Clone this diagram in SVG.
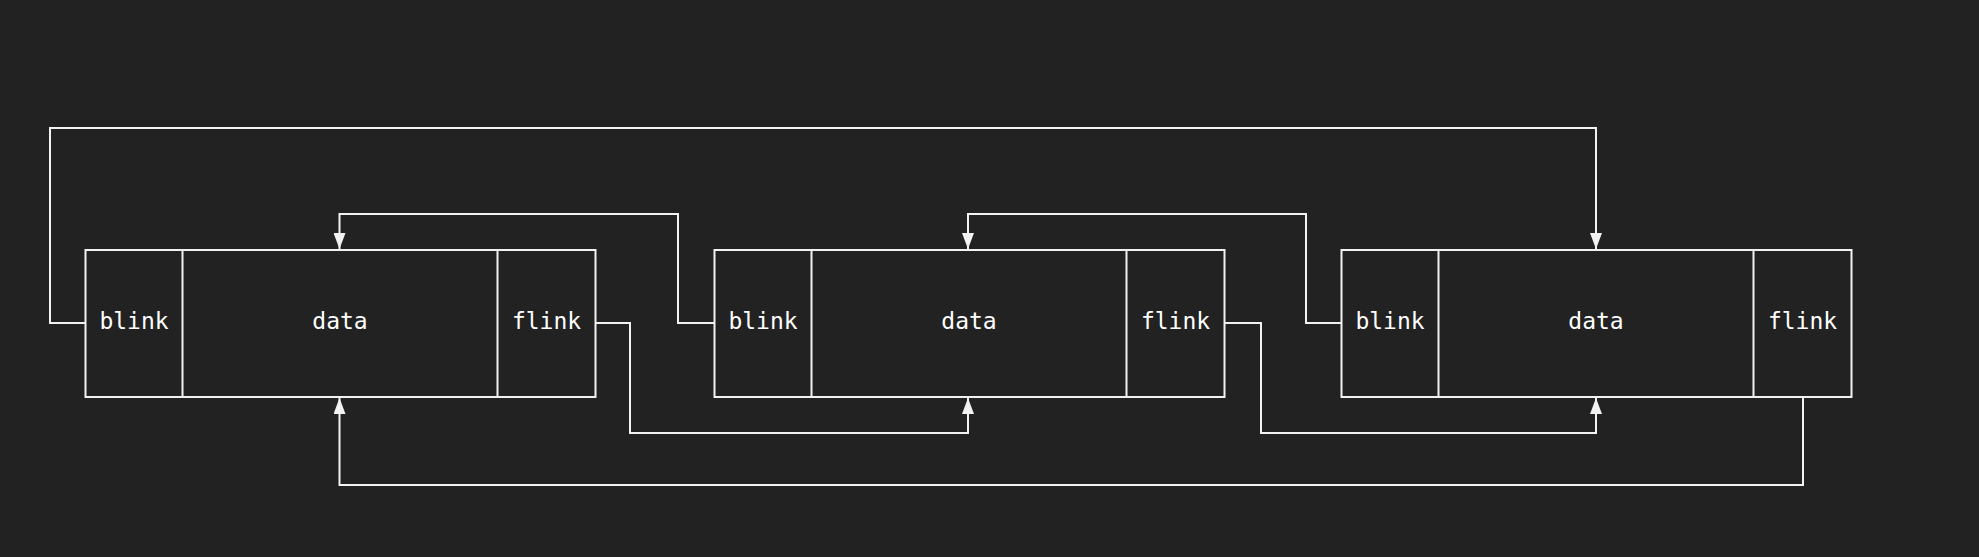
<svg xmlns="http://www.w3.org/2000/svg" width="1979" height="557" viewBox="0 0 1979 557">
<style>
.cell{fill:none;stroke:#f2f2f2;stroke-width:2}
.lbl{font-family:"DejaVu Sans Mono","Liberation Mono",monospace;font-size:23px;fill:#ffffff;text-anchor:middle}
.wire{fill:none;stroke:#f2f2f2;stroke-width:2}
</style>
<defs>
<marker id="arr" markerUnits="userSpaceOnUse" markerWidth="16" markerHeight="12" refX="16" refY="6" orient="auto">
<path d="M0,0 L16,6 L0,12 z" fill="#f2f2f2"/>
</marker>
</defs>
<rect width="1979" height="557" fill="#222222"/>
<g id="node1">
<rect class="cell" x="85.5" y="250" width="510" height="147"/>
<line class="cell" x1="182.5" y1="250" x2="182.5" y2="397"/>
<line class="cell" x1="497.5" y1="250" x2="497.5" y2="397"/>
<text class="lbl" x="134" y="329">blink</text>
<text class="lbl" x="340" y="329">data</text>
<text class="lbl" x="546.5" y="329">flink</text>
</g>
<g id="node2">
<rect class="cell" x="714.5" y="250" width="510" height="147"/>
<line class="cell" x1="811.5" y1="250" x2="811.5" y2="397"/>
<line class="cell" x1="1126.5" y1="250" x2="1126.5" y2="397"/>
<text class="lbl" x="763" y="329">blink</text>
<text class="lbl" x="969" y="329">data</text>
<text class="lbl" x="1175.5" y="329">flink</text>
</g>
<g id="node3">
<rect class="cell" x="1341.5" y="250" width="510" height="147"/>
<line class="cell" x1="1438.5" y1="250" x2="1438.5" y2="397"/>
<line class="cell" x1="1753.5" y1="250" x2="1753.5" y2="397"/>
<text class="lbl" x="1390" y="329">blink</text>
<text class="lbl" x="1596" y="329">data</text>
<text class="lbl" x="1802.5" y="329">flink</text>
</g>
<g id="connectors">
<path class="wire" marker-end="url(#arr)" d="M85.5,323 H50 V128 H1596 V249"/>
<path class="wire" marker-end="url(#arr)" d="M714.5,323 H678 V214 H339.5 V249"/>
<path class="wire" marker-end="url(#arr)" d="M1341.5,323 H1306 V214 H968 V249"/>
<path class="wire" marker-end="url(#arr)" d="M595.5,323 H630 V433 H968 V398"/>
<path class="wire" marker-end="url(#arr)" d="M1224.5,323 H1261 V433 H1596 V398"/>
<path class="wire" marker-end="url(#arr)" d="M1803,397 V485 H339.5 V398"/>
</g>
</svg>
